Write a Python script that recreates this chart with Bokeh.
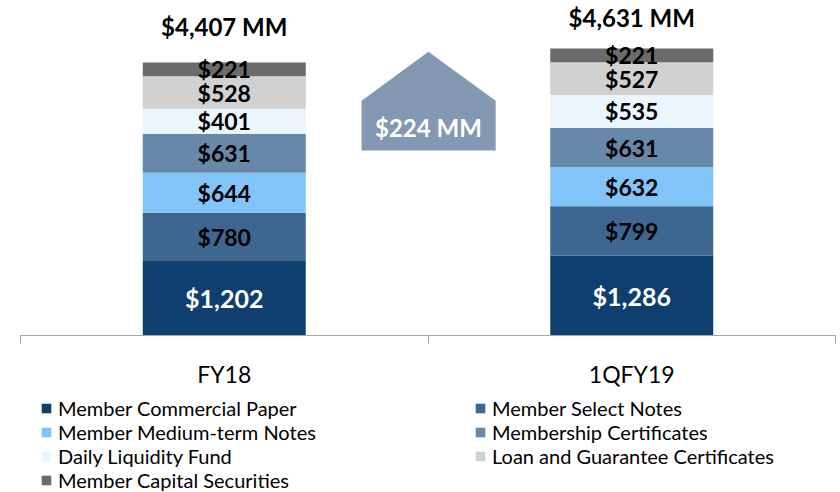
from bokeh.plotting import figure
from bokeh.layouts import column, row
from bokeh.models import ColumnDataSource, Range1d, FixedTicker, Legend, LegendItem, LinearAxis
from bokeh.core.properties import value
from bokeh.embed import file_html
from bokeh.resources import INLINE

# ---------------- data ----------------
categories = ["FY18", "1QFY19"]
series_names = [
    "Member Commercial Paper",
    "Member Select Notes",
    "Member Medium-term Notes",
    "Membership Certificates",
    "Daily Liquidity Fund",
    "Loan and Guarantee Certificates",
    "Member Capital Securities",
]
commercial_paper = [1202, 1286]
select_notes = [780, 799]
medium_term_notes = [644, 632]
membership_certs = [631, 631]
daily_liquidity = [401, 535]
loan_guarantee = [528, 527]
capital_securities = [221, 221]

series_values = [commercial_paper, select_notes, medium_term_notes, membership_certs,
                 daily_liquidity, loan_guarantee, capital_securities]
colors = ["#0F3F6E", "#3D6690", "#80C4F8", "#6888AA", "#EBF5FD", "#D1D1D1", "#6B6B6B"]

FONT = "Lato"
keys = [f"s{i}" for i in range(len(series_names))]
xpos = [1, 2]

data = {"x": xpos}
for k, v in zip(keys, series_values):
    data[k] = v
src = ColumnDataSource(data)

fig = figure(width=840, height=394, output_backend="svg", toolbar_location=None,
             x_range=Range1d(0.5, 2.5), y_range=Range1d(0, 5407),
             y_axis_location=None, x_axis_location=None,
             min_border_left=20, min_border_right=5, min_border_top=0, min_border_bottom=59)
fig.outline_line_color = None
fig.grid.visible = False
fig.background_fill_color = "white"

ax = LinearAxis(ticker=FixedTicker(ticks=xpos, minor_ticks=[0.5, 1.5, 2.5]))
ax.major_label_overrides = {x: c for x, c in zip(xpos, categories)}
ax.major_tick_line_color = None
ax.major_tick_out = 0
ax.major_tick_in = 0
ax.minor_tick_out = 8
ax.minor_tick_in = 0
ax.minor_tick_line_color = "#A6A6A6"
ax.axis_line_color = "#A6A6A6"
ax.major_label_standoff = 16
ax.major_label_text_font = FONT
ax.major_label_text_font_size = "23px"
ax.major_label_text_color = "#000000"
fig.add_layout(ax, "below")

rends = fig.vbar_stack(keys, x="x", width=0.4, color=colors, line_color=None, source=src)

# segment labels
lx, ly, lt, lc, ls = [], [], [], [], []
for i, x in enumerate(xpos):
    base = 0
    for j, v in enumerate(series_values):
        val = v[i]
        lx.append(x)
        ly.append(base + val / 2)
        lt.append(f"${val:,}")
        lc.append("white" if j == 0 else "black")
        ls.append("25px" if j == 0 else "23px")
        base += val
fig.text(x="x", y="y", text="t", text_color="c", text_font_size="s",
         source=ColumnDataSource(dict(x=lx, y=ly, t=lt, c=lc, s=ls)),
         text_font=value(FONT), text_font_style="bold",
         text_align="center", text_baseline="middle")

# totals
totals = [sum(v[i] for v in series_values) for i in range(len(xpos))]
total_offsets = [-36, -31]
fig.text(x="x", y="y", text="t", y_offset="o",
         source=ColumnDataSource(dict(x=xpos, y=totals, t=[f"${t:,} MM" for t in totals],
                                      o=total_offsets)),
         text_color="black",
         text_font=value(FONT), text_font_style="bold", text_font_size="24px",
         text_align="center", text_baseline="middle")

# growth arrow (house-shaped)
diff = totals[1] - totals[0]
ax_l, ax_r, ax_c = 1.337, 1.666, 1.501
ay_bottom, ay_shoulder, ay_peak = 2984, 3790, 4581
fig.patch(x=[ax_l, ax_l, ax_c, ax_r, ax_r], y=[ay_bottom, ay_shoulder, ay_peak, ay_shoulder, ay_bottom],
          fill_color="#8398B2", line_color=None)
fig.text(x=[ax_c], y=[3355], text=[f"${diff:,} MM"], text_color="white",
         text_font=value(FONT), text_font_style="bold", text_font_size="24px",
         text_align="center", text_baseline="middle")


# legend: two columns (row-major order like the reference)
def legend_fig(idxs, width):
    # zero-height, off-range copies of the series bars: only their legend swatches show
    lf = figure(width=width, height=98, output_backend="svg", toolbar_location=None,
                x_range=Range1d(10, 11), y_range=Range1d(10000, 10001),
                x_axis_location=None, y_axis_location=None,
                min_border_left=40, min_border_right=0, min_border_top=2, min_border_bottom=0)
    lf.outline_line_color = None
    lf.grid.visible = False
    items = []
    for i in idxs:
        r = lf.vbar(x=xpos, top=series_values[i], bottom=series_values[i], width=0.4,
                    color=colors[i], line_color=None)
        items.append(LegendItem(label=series_names[i], renderers=[r]))
    lg = Legend(items=items, location="top_left", orientation="vertical",
                glyph_width=12, glyph_height=12, label_standoff=6,
                label_text_font=FONT, label_text_font_size="20px", label_text_color="#000000",
                label_height=24, spacing=0, padding=0, margin=0,
                border_line_color=None, background_fill_alpha=0)
    lf.add_layout(lg, "center")
    return lf


leg_left = legend_fig([0, 2, 4, 6], 434)
leg_right = legend_fig([1, 3, 5], 406)

p = column(fig, row(leg_left, leg_right, spacing=0), spacing=0)

open("out.html", "w").write(file_html(p, INLINE))
